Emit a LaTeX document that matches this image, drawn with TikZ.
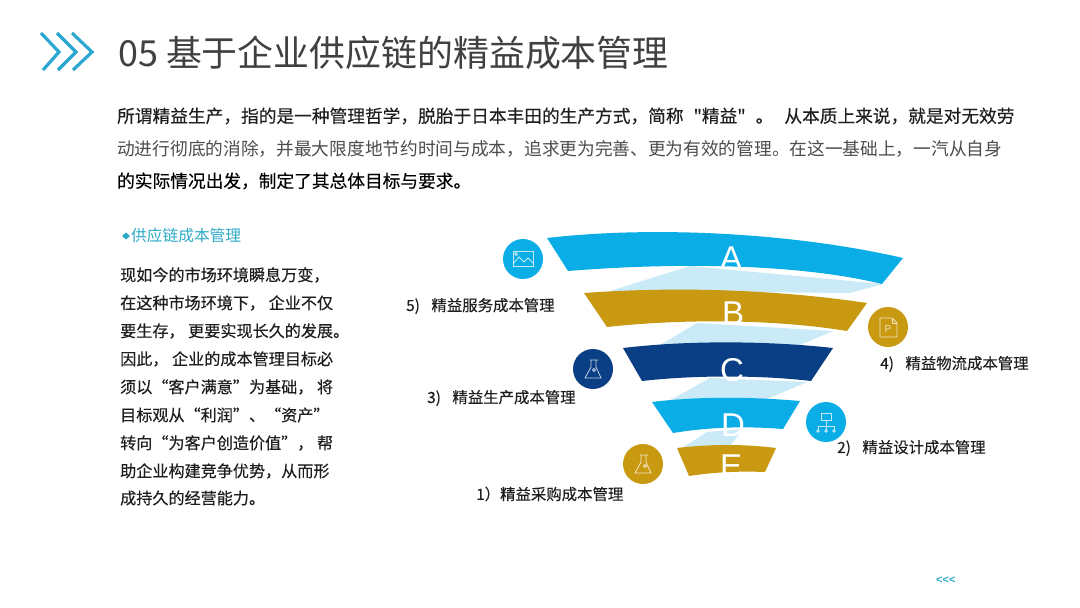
\documentclass[tikz,border=0pt]{standalone}
\usepackage{fontspec}
\setmainfont{Noto Sans CJK SC}
\newfontfamily\plainf{Noto Sans CJK SC}
\newfontfamily\boldishf[FakeBold=0.25]{Noto Sans CJK SC}
\newfontfamily\latinf{Liberation Sans}
\definecolor{cyanb}{HTML}{0BADE6}
\definecolor{goldb}{HTML}{C99A11}
\definecolor{navyb}{HTML}{0B3F85}
\definecolor{paleb}{HTML}{CBEAF8}
\definecolor{chev}{HTML}{2BA7D1}
\definecolor{teal}{HTML}{2FAAC8}
\definecolor{inkb}{HTML}{1E1E1E}
\tikzset{
 x=1pt,y=-1pt,
 chevron/.style={draw=chev,line width=3.2pt},
 titletext/.style={anchor=west,inner sep=0,text=black!75,font=\plainf\fontsize{35.9}{36}\selectfont},
 bodyline/.style={anchor=west,inner sep=0,text=inkb,font=\boldishf\fontsize{17.7}{18}\selectfont},
 sideline/.style={anchor=west,inner sep=0,text=inkb,font=\boldishf\fontsize{16.1}{16}\selectfont},
 tag/.style={anchor=west,inner sep=0,text=inkb,font=\boldishf\fontsize{15.4}{16}\selectfont},
 link/.style={fill=paleb,draw=none},
 band/.style={fill=#1,draw=none},
 letter/.style={text=white,inner sep=0,font=\latinf\fontsize{33}{33}\selectfont},
 badge/.style={circle,fill=#1,minimum size=40pt,inner sep=0,draw=none},
 icon/.style={draw=white!75!#1,line width=.8pt,fill=none},
}
\begin{document}
\begin{tikzpicture}
\useasboundingbox[fill=white] (0,0) rectangle (1080,608);
% chevrons
\draw[chevron] (41,33) -- (59,52) -- (43,70);
\draw[chevron] (57,33) -- (76,52) -- (58,70);
\draw[chevron] (72,33) -- (92,52) -- (73,70);
% title and intro
\node[titletext] (title) at (118,53) {05 基于企业供应链的精益成本管理};
\node[bodyline] (p1) at (117,116) {所谓精益生产，指的是一种管理哲学，脱胎于日本丰田的生产方式，简称\hspace{6pt} "精益"\hspace{6pt} 。\hspace{11pt}从本质上来说，就是对无效劳};
\node[anchor=west,inner sep=0,text=black!70,font=\plainf\fontsize{17.7}{18}\selectfont] (p2) at (117,149) {动进行彻底的消除，并最大限度地节约时间与成本，追求更为完善、更为有效的管理。在这一基础上，一汽从自身};
\node[bodyline,text=black] (p3) at (117,181) {的实际情况出发，制定了其总体目标与要求。};
% side column
\node[anchor=west,inner sep=0,text=teal,font=\plainf\fontsize{15.7}{16}\selectfont] (sidehead) at (131,236) {供应链成本管理};
\fill[teal] (122,236) -- (126,232.5) -- (130,236) -- (126,239.5) -- cycle;
\node[sideline] (s1) at (120,275) {现如今的市场环境瞬息万变，};
\node[sideline] (s2) at (120,303) {在这种市场环境下， 企业不仅};
\node[sideline] (s3) at (120,331) {要生存， 更要实现长久的发展。};
\node[sideline] (s4) at (120,359) {因此， 企业的成本管理目标必};
\node[sideline] (s5) at (120,387) {须以“客户满意”为基础， 将};
\node[sideline] (s6) at (120,415) {目标观从“利润”、“资产”};
\node[sideline] (s7) at (120,443) {转向“为客户创造价值”， 帮};
\node[sideline] (s8) at (120,471) {助企业构建竞争优势，从而形};
\node[sideline] (s9) at (120,498) {成持久的经营能力。};
% funnel links
\fill[link] (690,266) -- (883,284) -- (850,293) -- (610,291) -- cycle;
\fill[link] (697,323) -- (833,331) -- (800,345) -- (660,345) -- cycle;
\fill[link] (710,378) -- (807,382) -- (767,399) -- (667,402) -- cycle;
\fill[link] (707,432) -- (743,429) -- (730,446) -- (682,448) -- cycle;
% funnel bands
\fill[band=cyanb] (547,238) .. controls (650,226) and (790,232) .. (903,258)
  -- (882,284) .. controls (800,264) and (680,262) .. (568,271) -- cycle;
\fill[band=goldb] (584,293) .. controls (680,286) and (780,290) .. (867,303)
  -- (847,331) .. controls (780,320) and (690,318) .. (607,327) -- cycle;
\fill[band=navyb] (623,348) .. controls (690,340) and (770,341) .. (833,348)
  -- (811,381) .. controls (760,375) and (695,375) .. (642,381) -- cycle;
\fill[band=cyanb] (652,402) .. controls (700,396) and (755,397) .. (800,401)
  -- (783,429) .. controls (745,426) and (710,427) .. (673,433) -- cycle;
\fill[band=goldb] (677,448) .. controls (710,444) and (745,444) .. (776,448)
  -- (765,472) .. controls (740,471) and (715,472) .. (689,476) -- cycle;
% letters
\node[letter] (la) at (731,258) {A};
\node[letter] (lb) at (733,313) {B};
\node[letter] (lc) at (732,370) {C};
\node[letter] (ld) at (733,425) {D};
\node[letter] (le) at (731,466) {E};
% badges
\node[badge=cyanb] (b5) at (523,259) {};
\node[badge=goldb] (b4) at (888,327) {};
\node[badge=navyb] (b3) at (593,369) {};
\node[badge=cyanb] (b2) at (826,422) {};
\node[badge=goldb] (b1) at (643,464) {};
% picture icon
\draw[icon=cyanb] (513,251) rectangle (533,266);
\draw[icon=cyanb] (513,264) -- (519,257) -- (524,262) -- (528,258) -- (533,263);
\draw[icon=cyanb] (516,254) circle (1.5);
% document icon
\draw[icon=goldb] (880,318) -- (892,318) -- (897,323) -- (897,337) -- (880,337) -- cycle;
\draw[icon=goldb] (892,318) -- (892,323) -- (897,323);
\node[inner sep=0,text=white!75!goldb,font=\latinf\fontsize{10}{10}\selectfont] (pchar) at (888,329) {P};
% flask icons
\draw[icon=navyb] (590,360) -- (598,360) (591,360) -- (591,367) -- (585,378) -- (601,378) -- (596,367) -- (596,360);
\draw[icon=navyb] (594,370) circle (1.5);
\draw[icon=goldb] (640,455) -- (648,455) (641,455) -- (641,462) -- (635,473) -- (651,473) -- (646,462) -- (646,455);
\draw[icon=goldb] (645,466) circle (1.5);
% org chart icon
\draw[icon=cyanb] (821,413) rectangle (831,420);
\draw[icon=cyanb] (826,420) -- (826,430) (818,430) -- (818,426) -- (834,426) -- (834,430);
\draw[icon=cyanb] (818,431) circle (1.3) (826,431) circle (1.3) (834,431) circle (1.3);
% tags
\node[tag] (t5) at (406,306) {5)\hspace{11.5pt}精益服务成本管理};
\node[tag] (t4) at (880,364) {4)\hspace{11.5pt}精益物流成本管理};
\node[tag] (t3) at (427,398) {3)\hspace{11.5pt}精益生产成本管理};
\node[tag] (t2) at (837,448) {2)\hspace{11.5pt}精益设计成本管理};
\node[tag] (t1) at (476,494) {1）精益采购成本管理};
\node[anchor=west,inner sep=0,text=teal,font=\latinf\bfseries\fontsize{11}{11}\selectfont] (back) at (936,580) {<<<};
\end{tikzpicture}
\end{document}
